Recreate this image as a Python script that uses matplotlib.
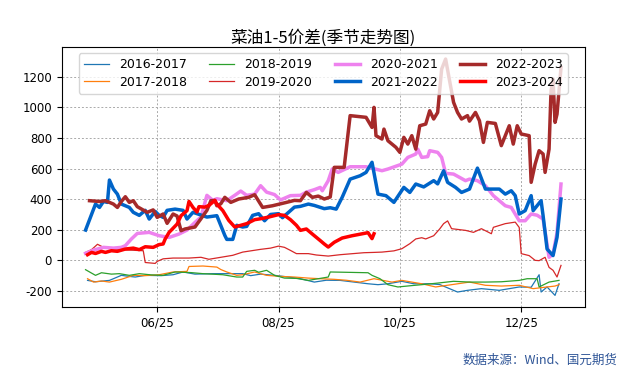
import datetime as dt
import matplotlib
matplotlib.use('Agg')
import matplotlib.pyplot as plt
import matplotlib.dates as mdates

plt.rcParams['font.family'] = ['Noto Sans CJK SC', 'DejaVu Sans']
plt.rcParams['axes.unicode_minus'] = False

# 各年度菜油1-5价差（季节性，5月至次年1月）
d16 = ['05-21', '05-25', '06-01', '06-07', '06-11', '06-14', '06-19', '06-27', '07-03', '07-08',
       '07-14', '07-23', '07-31', '08-07', '08-11', '08-16', '08-23', '08-30', '09-05', '09-12',
       '09-18', '09-25', '10-02', '10-09', '10-14', '10-19', '10-26', '11-01', '11-09', '11-14',
       '11-23', '11-28', '12-05', '12-14', '12-19', '12-24', '12-30', '01-03', '01-04', '01-07',
       '01-11', '01-13']
v16 = [-131, -140, -131, -98, -105, -109, -98, -100, -94, -76,
       -90, -87, -87, -87, -100, -90, -98, -109, -120, -142,
       -130, -131, -142, -153, -159, -153, -137, -153, -153, -158,
       -207, -196, -185, -196, -185, -174, -176, -94, -207, -174,
       -229, -153]

d17 = ['05-21', '05-24', '05-28', '06-01', '06-07', '06-13', '06-19', '06-26', '07-03', '07-10',
       '07-11', '07-18', '07-25', '07-27', '07-30', '08-04', '08-07', '08-13', '08-19', '08-26',
       '09-02', '09-09', '09-15', '09-22', '09-28', '10-05', '10-12', '10-21', '10-26', '10-31',
       '11-05', '11-12', '11-20', '11-29', '12-07', '12-15', '12-24', '12-31', '01-07', '01-11',
       '01-13']
v17 = [-120, -142, -135, -142, -124, -98, -100, -94, -76, -72,
       -40, -37, -44, -60, -76, -98, -94, -76, -98, -105,
       -109, -116, -120, -124, -130, -142, -120, -142, -131, -142,
       -153, -174, -159, -142, -163, -168, -163, -185, -174, -168,
       -159]

d18 = ['05-20', '05-25', '05-28', '06-02', '06-06', '06-11', '06-16', '06-22', '06-28', '07-04',
       '07-12', '07-18', '07-28', '08-04', '08-07', '08-09', '08-13', '08-15', '08-19', '08-23',
       '08-28', '09-03', '09-09', '09-14', '09-19', '09-20', '09-28', '10-09', '10-11', '10-15',
       '10-19', '10-24', '10-31', '11-05', '11-12', '11-21', '11-29', '12-07', '12-15', '12-24',
       '12-28', '01-02', '01-03', '01-08', '01-13']
v18 = [-61, -98, -81, -90, -87, -98, -87, -95, -98, -76,
       -80, -87, -94, -109, -109, -72, -65, -78, -65, -98,
       -116, -118, -131, -120, -109, -76, -78, -81, -98, -120,
       -159, -174, -165, -159, -150, -137, -142, -142, -140, -131,
       -120, -120, -174, -142, -131]

d19 = ['05-20', '05-23', '05-26', '05-29', '06-03', '06-09', '06-18', '06-19', '06-24', '06-25',
       '06-28', '07-03', '07-11', '07-17', '07-21', '07-27', '08-02', '08-07', '08-11', '08-16',
       '08-21', '08-25', '08-28', '08-31', '09-03', '09-09', '09-13', '09-19', '09-25', '10-07',
       '10-12', '10-16', '10-22', '10-26', '10-30', '11-02', '11-05', '11-07', '11-11', '11-14',
       '11-16', '11-18', '11-20', '11-27', '12-01', '12-05', '12-10', '12-11', '12-17', '12-22',
       '12-24', '12-25', '12-29', '01-01', '01-03', '01-06', '01-08', '01-10', '01-12', '01-14']
v19 = [52, 70, 105, 85, 74, 68, 63, -14, -20, -7,
       10, 15, 15, 20, 7, 20, 33, 54, 62, 72,
       80, 93, 85, 65, 44, 44, 35, 28, 37, 50,
       52, 54, 62, 76, 109, 140, 148, 140, 161, 205,
       240, 258, 207, 196, 183, 207, 174, 216, 240, 250,
       215, 44, 31, 0, -2, 20, -46, -65, -109, -33]

d20 = ['05-20', '05-24', '05-29', '06-03', '06-07', '06-09', '06-12', '06-15', '06-21', '06-26',
       '07-01', '07-06', '07-10', '07-14', '07-17', '07-20', '07-23', '07-25', '07-30', '08-03',
       '08-06', '08-09', '08-13', '08-16', '08-19', '08-23', '08-26', '08-31', '09-05', '09-08',
       '09-12', '09-15', '09-16', '09-19', '09-21', '09-24', '09-30', '10-08', '10-16', '10-19',
       '10-26', '10-29', '11-02', '11-03', '11-05', '11-08', '11-09', '11-13', '11-15', '11-17',
       '11-21', '11-27', '11-29', '12-03', '12-07', '12-11', '12-14', '12-17', '12-20', '12-24',
       '12-27', '12-30', '01-02', '01-05', '01-08', '01-10', '01-12', '01-14']
v20 = [46, 67, 85, 80, 85, 96, 139, 176, 183, 161,
       150, 172, 198, 248, 283, 425, 392, 403, 390, 425,
       453, 425, 433, 488, 446, 430, 395, 423, 425, 446,
       462, 477, 455, 521, 597, 575, 612, 612, 586, 597,
       629, 673, 695, 727, 673, 678, 717, 706, 673, 569,
       564, 521, 531, 521, 488, 423, 390, 357, 346, 259,
       259, 303, 295, 270, 20, 41, 180, 499]

d21 = ['05-20', '05-25', '05-27', '05-29', '05-31', '06-01', '06-03', '06-05', '06-07', '06-11',
       '06-13', '06-16', '06-19', '06-21', '06-24', '06-26', '06-28', '06-30', '07-04', '07-08',
       '07-10', '07-13', '07-20', '07-25', '07-29', '07-30', '08-02', '08-04', '08-07', '08-09',
       '08-12', '08-15', '08-18', '08-21', '08-25', '08-27', '09-02', '09-05', '09-09', '09-12',
       '09-17', '09-20', '09-23', '09-26', '09-30', '10-05', '10-08', '10-11', '10-14', '10-18',
       '10-22', '10-27', '10-30', '11-02', '11-06', '11-11', '11-13', '11-16', '11-18', '11-22',
       '11-25', '11-29', '12-03', '12-07', '12-14', '12-17', '12-20', '12-22', '12-24', '12-27',
       '12-30', '12-31', '01-04', '01-05', '01-07', '01-10', '01-12', '01-14']
v21 = [198, 368, 346, 385, 379, 525, 466, 433, 368, 346,
       314, 294, 327, 270, 320, 294, 281, 327, 335, 327,
       270, 314, 283, 292, 163, 137, 137, 229, 218, 222,
       294, 305, 259, 300, 305, 279, 348, 353, 368, 359,
       338, 344, 335, 412, 531, 553, 575, 641, 433, 423,
       379, 477, 444, 499, 480, 521, 500, 586, 510, 477,
       444, 466, 603, 466, 466, 433, 455, 423, 303, 325,
       423, 325, 390, 292, 74, 31, 150, 401]

d22 = ['05-22', '05-27', '05-30', '06-03', '06-05', '06-07', '06-09', '06-11', '06-13', '06-15',
       '06-20', '06-23', '06-25', '06-28', '06-30', '07-03', '07-05', '07-07', '07-09', '07-14',
       '07-17', '07-20', '07-22', '07-24', '07-25', '07-27', '07-29', '08-01', '08-05', '08-10',
       '08-13', '08-17', '08-22', '08-29', '09-02', '09-05', '09-08', '09-11', '09-14', '09-17',
       '09-20', '09-22', '09-27', '09-30', '10-08', '10-11', '10-12', '10-13', '10-16', '10-17',
       '10-19', '10-23', '10-25', '10-27', '10-29', '10-31', '11-02', '11-04', '11-07', '11-09',
       '11-11', '11-13', '11-15', '11-17', '11-19', '11-21', '11-23', '11-25', '11-28', '11-29',
       '12-02', '12-04', '12-06', '12-08', '12-12', '12-15', '12-19', '12-21', '12-23', '12-25',
       '12-29', '12-30', '01-01', '01-03', '01-05', '01-06', '01-08', '01-09', '01-10', '01-11',
       '01-12', '01-14']
v22 = [390, 385, 390, 368, 346, 385, 416, 379, 390, 351,
       314, 330, 281, 303, 242, 303, 290, 194, 205, 218,
       272, 327, 390, 392, 357, 370, 412, 379, 401, 412,
       429, 346, 357, 379, 392, 390, 444, 412, 420, 401,
       414, 608, 608, 946, 935, 869, 1000, 815, 793, 858,
       782, 739, 706, 804, 760, 815, 727, 880, 891, 978,
       924, 967, 1250, 1316, 1174, 1033, 967, 924, 946, 910,
       967, 913, 771, 902, 895, 750, 880, 760, 880, 826,
       815, 510, 629, 717, 695, 575, 727, 1109, 1185, 902,
       956, 1261]

d23 = ['05-21', '05-23', '05-25', '05-28', '05-30', '06-02', '06-05', '06-09', '06-13', '06-16',
       '06-19', '06-23', '06-26', '06-28', '06-29', '07-01', '07-05', '07-07', '07-10', '07-11',
       '07-13', '07-15', '07-16', '07-19', '07-21', '07-24', '07-25', '07-28', '07-31', '08-03',
       '08-06', '08-09', '08-13', '08-16', '08-20', '08-25', '08-28', '08-31', '09-03', '09-05',
       '09-08', '09-11', '09-15', '09-17', '09-19', '09-22', '09-26', '10-01', '10-09', '10-11',
       '10-12']
v23 = [37, 52, 45, 59, 52, 63, 59, 74, 80, 70,
       89, 85, 103, 107, 139, 183, 237, 292, 325, 385,
       346, 316, 351, 348, 359, 392, 368, 325, 261, 218,
       229, 240, 266, 272, 283, 299, 294, 266, 229, 196,
       205, 172, 129, 107, 87, 118, 146, 161, 181, 142,
       174]

seasons = [
    ('2016-2017', d16, v16, '#1f77b4', 0.9),
    ('2017-2018', d17, v17, '#ff7f0e', 0.9),
    ('2018-2019', d18, v18, '#2ca02c', 0.9),
    ('2019-2020', d19, v19, '#d62728', 0.9),
    ('2020-2021', d20, v20, 'violet', 2.5),
    ('2021-2022', d21, v21, '#0064c8', 2.5),
    ('2022-2023', d22, v22, '#a52a2a', 2.5),
    ('2023-2024', d23, v23, 'red', 2.5),
]


def to_date(s):
    m, d = map(int, s.split('-'))
    year = 2000 if m >= 5 else 2001
    return dt.datetime(year, m, d)


fig = plt.figure(figsize=(6.37, 3.84), dpi=100)
ax = fig.add_axes([0.097, 0.2, 0.821, 0.677])

for name, dates, vals, color, lw in seasons:
    ax.plot([to_date(s) for s in dates], vals, color=color, linewidth=lw, label=name)

ax.xaxis.set_major_locator(mdates.MonthLocator(bymonth=[6, 8, 10, 12], bymonthday=25))
ax.xaxis.set_major_formatter(mdates.DateFormatter('%m/%d'))
ax.tick_params(labelsize=8.5)
for lab in ax.get_xticklabels() + ax.get_yticklabels():
    lab.set_family('DejaVu Sans')

ax.grid(True, linestyle=(0, (2, 2)), color='#aaaaaa', linewidth=0.7)
ax.set_title('菜油1-5价差(季节走势图)', fontsize=12, pad=3)
leg = ax.legend(loc='upper center', ncol=4, fontsize=9, handlelength=2.0,
                handletextpad=0.8, columnspacing=1.8, borderaxespad=0.5,
                labelspacing=0.35)
for t in leg.get_texts():
    t.set_family('DejaVu Sans')

fig.text(0.97, 0.045, '数据来源：Wind、国元期货', ha='right', va='bottom',
         fontsize=9, color='#2f5597')

fig.savefig('out.png', dpi=100)
